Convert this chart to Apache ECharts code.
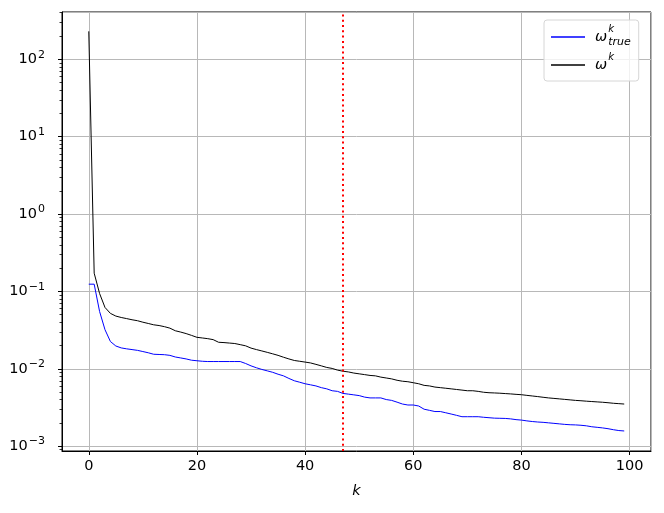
<!DOCTYPE html>
<html>
<head>
<meta charset="utf-8">
<script src="https://cdn.jsdelivr.net/npm/echarts@6/dist/echarts.min.js"></script>
<style>html,body{margin:0;padding:0;background:#fff;}#c{width:664px;height:513px;}</style>
</head>
<body>
<div id="c"></div>
<script>
const kValues = Array.from({length: 100}, (_, i) => i);
const omegaTrue = [0.124,0.124,0.055,0.032,0.0225,0.0197,0.0186,0.0181,0.0177,0.0173,
0.0167,0.0161,0.0154,0.0153,0.0152,0.0149,0.0142,0.0138,0.0134,0.0129,
0.0127,0.0125,0.0124,0.0124,0.0124,0.0124,0.0124,0.0124,0.0124,0.0117,
0.0109,0.0103,0.0098,0.0094,0.0090,0.0085,0.0081,0.0075,0.0070,0.0067,
0.0064,0.0062,0.0060,0.0057,0.0055,0.0052,0.0051,0.0048,0.0047,0.0046,
0.0045,0.0043,0.0042,0.0042,0.0042,0.0040,0.0039,0.0037,0.0035,0.0034,
0.0034,0.0033,0.0030,0.0029,0.0028,0.0028,0.0027,0.0026,0.0025,0.0024,
0.0024,0.0024,0.0024,0.00236,0.00233,0.00230,0.00229,0.00228,0.00225,0.00220,
0.00217,0.00212,0.00208,0.00205,0.00203,0.00200,0.00197,0.00194,0.00191,0.00189,
0.00188,0.00186,0.00183,0.00178,0.00175,0.00172,0.00168,0.00163,0.00159,0.00157];
const omega = [230,0.172,0.094,0.062,0.052,0.048,0.046,0.0445,0.043,0.0418,
0.040,0.0385,0.037,0.0362,0.035,0.0335,0.031,0.0298,0.0285,0.027,
0.0255,0.025,0.0245,0.0238,0.022,0.0218,0.0215,0.0212,0.0205,0.0198,
0.0185,0.0177,0.0170,0.0163,0.0156,0.0149,0.0141,0.0134,0.0128,0.0125,
0.0122,0.0119,0.0114,0.0109,0.0104,0.0101,0.0096,0.0093,0.0091,0.0088,
0.0086,0.0084,0.0082,0.0081,0.0078,0.0076,0.0074,0.0071,0.0069,0.0068,
0.0066,0.0064,0.0061,0.0060,0.0058,0.0057,0.0056,0.0055,0.0054,0.0053,
0.0052,0.0052,0.0051,0.00497,0.00490,0.00487,0.00483,0.00478,0.00473,0.00467,
0.00462,0.00453,0.00445,0.00437,0.00428,0.00420,0.00414,0.00408,0.00402,0.00396,
0.00390,0.00386,0.00381,0.00377,0.00373,0.00369,0.00364,0.00358,0.00354,0.00350];
const markerK = 47;
const minorTicks = [];
for (let e = -4; e <= 2; e++) for (let m = 2; m <= 9; m++) minorTicks.push(m * Math.pow(10, e));

const FONT = 'DejaVu Sans';
const chart = echarts.init(document.getElementById('c'), null, {renderer: 'canvas'});
const supFmt = function (v) {
  const e = Math.round(Math.log10(v));
  const s = e < 0 ? '\u2212' + (-e) : String(e);
  return '{b|10}{s|' + s + '}';
};
chart.setOption({
  animation: false,
  backgroundColor: '#fff',
  grid: {left: 62, top: 12, width: 589, height: 439, show: true, borderColor: '#000', borderWidth: 1, containLabel: false},
  legend: {
    left: 544, top: 20, orient: 'vertical',
    icon: 'rect',
    itemWidth: 34, itemHeight: 1.5, itemGap: 2,
    padding: [4, 8, 3, 7],
    borderColor: '#d6d6d6', borderWidth: 1, borderRadius: 3,
    backgroundColor: 'rgba(255,255,255,0.8)',
    formatter: function (name) {
      if (name === 'true') return '{w|\u03c9}{k|k}{t|true}';
      return '{w|\u03c9}{k2|k}';
    },
    textStyle: {
      fontFamily: FONT, fontSize: 14, color: '#000',
      rich: {
        w: {fontFamily: FONT, fontSize: 14.5, fontStyle: 'italic', lineHeight: 14, padding: [0, 1, 0, 5]},
        k: {fontFamily: FONT, fontSize: 10, fontStyle: 'italic', lineHeight: 10, padding: [0, 0, 16, 0], width: 0},
        k2: {fontFamily: FONT, fontSize: 10, fontStyle: 'italic', lineHeight: 10, padding: [0, 0, 16, 0]},
        t: {fontFamily: FONT, fontSize: 11, fontStyle: 'italic', lineHeight: 11, padding: [11, 0, 0, 0]}
      }
    },
    data: [{name: 'true'}, {name: 'est'}]
  },
  xAxis: {
    type: 'value', min: -4.95, max: 103.95, splitNumber: 5,
    name: 'k', nameLocation: 'middle', nameGap: 33,
    nameTextStyle: {fontFamily: FONT, fontSize: 14.5, fontStyle: 'italic', color: '#000'},
    axisLine: {show: true, onZero: false, lineStyle: {color: '#000', width: 1}},
    axisTick: {show: true, inside: false, length: 4, lineStyle: {color: '#000', width: 1}},
    axisLabel: {fontFamily: FONT, fontSize: 14.5, color: '#000', margin: 8, showMinLabel: false, showMaxLabel: false,
      formatter: function (v) { return String(Math.round(v)); }},
    splitLine: {show: true, lineStyle: {color: '#b8b8b8', width: 1}}
  },
  yAxis: [{
    type: 'log', min: 0.000865, max: 409, logBase: 10,
    axisLine: {show: true, onZero: false, lineStyle: {color: '#000', width: 1}},
    axisTick: {show: true, inside: false, length: 4, lineStyle: {color: '#000', width: 1}},
    axisLabel: {fontFamily: FONT, fontSize: 14.5, color: '#000', margin: 17, showMinLabel: false, showMaxLabel: false,
      formatter: supFmt,
      rich: {
        b: {fontFamily: FONT, fontSize: 14.5, lineHeight: 15},
        s: {fontFamily: FONT, fontSize: 11, lineHeight: 11, padding: [0, 0, 9, 1]}
      }},
    splitLine: {show: true, lineStyle: {color: '#b8b8b8', width: 1}},
    minorTick: {show: false}
  }, {
    type: 'log', min: 0.000865, max: 409, logBase: 10, position: 'left',
    axisLine: {show: false, onZero: false},
    axisTick: {show: true, inside: false, length: 2.5, customValues: minorTicks, lineStyle: {color: '#000', width: 0.8}},
    axisLabel: {show: false},
    splitLine: {show: false}
  }],
  series: [{
    name: 'true', type: 'line', yAxisIndex: 0,
    data: kValues.map((k, i) => [k, omegaTrue[i]]),
    symbol: 'none', lineStyle: {color: '#0000ff', width: 1}, itemStyle: {color: '#0000ff'},
    markLine: {
      silent: true, symbol: 'none', label: {show: false},
      lineStyle: {color: '#ff0000', width: 2, type: [2, 3.3]},
      data: [{xAxis: markerK}]
    }
  }, {
    name: 'est', type: 'line', yAxisIndex: 0,
    data: kValues.map((k, i) => [k, omega[i]]),
    symbol: 'none', lineStyle: {color: '#000', width: 1}, itemStyle: {color: '#000'}
  }]
});
</script>
</body>
</html>
